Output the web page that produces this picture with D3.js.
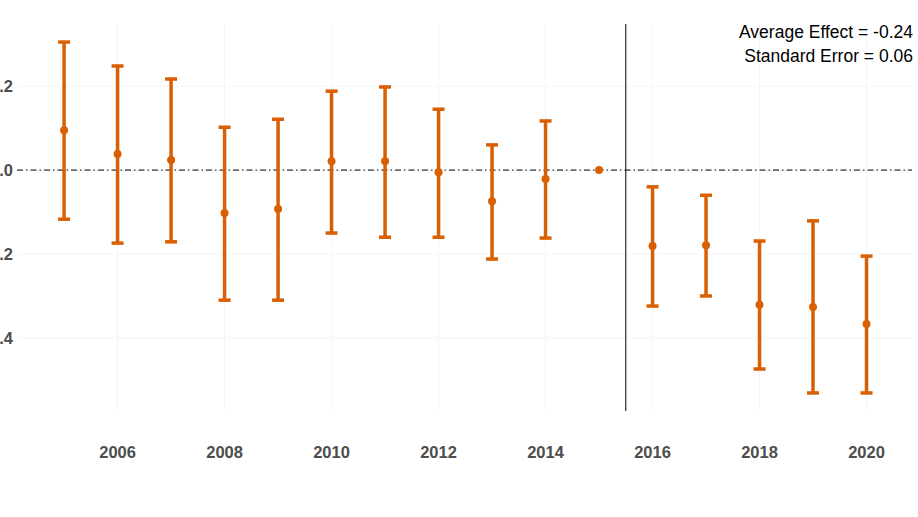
<!DOCTYPE html>
<html><head><meta charset="utf-8">
<script src="https://cdn.jsdelivr.net/npm/d3@7"></script>
<style>body{margin:0;background:#fff}svg{display:block}</style>
</head><body>
<svg id="c" width="918" height="517"></svg>
<script>
const years = [2005,2006,2007,2008,2009,2010,2011,2012,2013,2014,2015,2016,2017,2018,2019,2020];
const estimates = [0.095,0.038,0.024,-0.102,-0.093,0.021,0.021,-0.005,-0.074,-0.021,0,-0.181,-0.179,-0.321,-0.326,-0.367];
const upper = [0.305,0.248,0.217,0.102,0.121,0.188,0.198,0.145,0.060,0.117,0,-0.040,-0.060,-0.169,-0.121,-0.205];
const lower = [-0.117,-0.174,-0.171,-0.310,-0.310,-0.150,-0.160,-0.160,-0.212,-0.162,0,-0.324,-0.300,-0.474,-0.531,-0.531];
const xTicks = [2006,2008,2010,2012,2014,2016,2018,2020];
const yTicks = [0.2,0.0,-0.2,-0.4];
const annotations = ["Average Effect = -0.24","Standard Error = 0.06"];
const treatmentYear = 2015.5;

const svg = d3.select("#c");
const x = d3.scaleLinear().domain([2004.12,2020.85]).range([17,912]);
const y = d3.scaleLinear().domain([-0.574,0.348]).range([411,24]);
const col = "#D95F02";

// grid
const g = svg.append("g");
g.selectAll("line.vg").data(xTicks).join("line")
  .attr("x1",d=>x(d)).attr("x2",d=>x(d)).attr("y1",24).attr("y2",411)
  .attr("stroke","#f5f5f5").attr("stroke-width",1);
g.selectAll("line.hg").data(yTicks).join("line")
  .attr("x1",17).attr("x2",912).attr("y1",d=>y(d)).attr("y2",d=>y(d))
  .attr("stroke","#f5f5f5").attr("stroke-width",1);

// zero line
svg.append("line").attr("x1",17).attr("x2",912).attr("y1",y(0)).attr("y2",y(0))
  .attr("stroke","#000").attr("stroke-width",1).attr("stroke-dasharray","6,3,1.5,3");
// treatment line
svg.append("line").attr("x1",x(treatmentYear)).attr("x2",x(treatmentYear)).attr("y1",24).attr("y2",411)
  .attr("stroke","#000").attr("stroke-width",1);

const data = years.map((yr,i)=>({yr,est:estimates[i],hi:upper[i],lo:lower[i]}));
const eb = svg.append("g");
eb.selectAll("line.v").data(data).join("line")
  .attr("x1",d=>x(d.yr)).attr("x2",d=>x(d.yr)).attr("y1",d=>y(d.hi)).attr("y2",d=>y(d.lo))
  .attr("stroke",col).attr("stroke-width",3.5);
eb.selectAll("line.t").data(data.filter(d=>d.hi!==d.lo)).join("line")
  .attr("x1",d=>x(d.yr)-6).attr("x2",d=>x(d.yr)+6).attr("y1",d=>y(d.hi)).attr("y2",d=>y(d.hi))
  .attr("stroke",col).attr("stroke-width",3.5);
eb.selectAll("line.b").data(data.filter(d=>d.hi!==d.lo)).join("line")
  .attr("x1",d=>x(d.yr)-6).attr("x2",d=>x(d.yr)+6).attr("y1",d=>y(d.lo)).attr("y2",d=>y(d.lo))
  .attr("stroke",col).attr("stroke-width",3.5);
eb.selectAll("circle").data(data).join("circle")
  .attr("cx",d=>x(d.yr)).attr("cy",d=>y(d.est)).attr("r",4).attr("fill",col);

// axes labels
const font = "'Liberation Sans', Arial, Helvetica, sans-serif";
svg.selectAll("text.xt").data(xTicks).join("text")
  .attr("x",d=>x(d)).attr("y",458).attr("text-anchor","middle")
  .attr("font-family",font).attr("font-weight","bold").attr("font-size",16.5).attr("fill","#4d4d4d")
  .text(d=>d);
svg.selectAll("text.yt").data(yTicks).join("text")
  .attr("x",13).attr("y",d=>y(d)+6).attr("text-anchor","end")
  .attr("font-family",font).attr("font-weight","bold").attr("font-size",16.5).attr("fill","#4d4d4d")
  .text(d=>d3.format(".1f")(d).replace("−","-"));

svg.selectAll("text.ann").data(annotations).join("text")
  .attr("x",913).attr("y",(d,i)=>37.5+i*24).attr("text-anchor","end")
  .attr("font-family",font).attr("font-size",17.5).attr("fill","#000")
  .text(d=>d);
</script>
</body></html>
